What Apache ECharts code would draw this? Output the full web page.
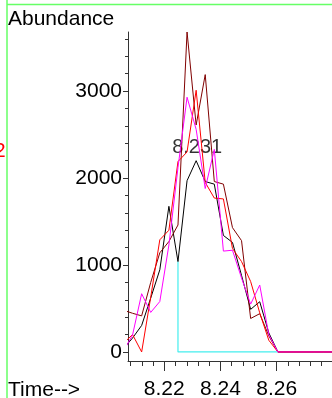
<!DOCTYPE html>
<html><head><meta charset="utf-8">
<script src="https://cdn.jsdelivr.net/npm/echarts@6/dist/echarts.min.js"></script>
<style>html,body{margin:0;padding:0;background:#fff;overflow:hidden}#c{width:332px;height:398px}</style>
</head><body><div id="c"></div>
<script>
// scan times (min)
const times = [8.20547, 8.20870, 8.21194, 8.21517, 8.21840, 8.22164, 8.22487, 8.22810,
  8.23134, 8.23457, 8.23780, 8.24104, 8.24427, 8.24750, 8.25074, 8.25397, 8.25720,
  8.26044, 8.26367, 8.26690, 8.27014, 8.27337, 8.27660, 8.27984];
const blackIon   = [40, 160, 305, 620, 945, 1675, 1040, 1970, 2200, 1960, 1930, 1340, 1260, 880, 490, 578, 220, 0, 0, 0, 0, 0, 0, 0];
const maroonIon  = [480, 445, 415, 800, 1140, 1270, 1460, 3680, 2610, 3190, 1960, 1930, 1430, 1280, 385, 440, 185, 0, 0, 0, 0, 0, 0, 0];
const redIon     = [100, 200, 0, 630, 1290, 1400, 2190, 2300, 3010, 1950, 1770, 1760, 1190, 1040, 810, 450, 135, 0, 0, 0, 0, 0, 0, 0];
const magentaIon = [10, 195, 670, 455, 580, 1230, 2120, 2930, 2560, 1880, 2330, 1160, 1170, 850, 550, 770, 200, 0, 0, 0, 0, 0, 0, 0];
const peakIndex = 8;
const peakLabel = '8.231';
const baseStart = 6, baseEnd = 17;
const xMajorTicks = [8.22, 8.24, 8.26];
const xMinorTicks = [8.208, 8.212, 8.216, 8.220, 8.224, 8.228, 8.232, 8.236, 8.240, 8.244, 8.248, 8.252, 8.256, 8.260, 8.264, 8.268, 8.272, 8.276];
const yMajorTicks = [0, 1000, 2000, 3000];
const yMinorTicks = [0, 200, 400, 600, 800, 1000, 1200, 1400, 1600, 1800, 2000, 2200, 2400, 2600, 2800, 3000, 3200, 3400, 3600];
const yTitle = 'Abundance';
const xTitle = 'Time-->';

const FONT = '"Liberation Sans", Arial, sans-serif';
const XMIN = 8.20708, XMAX = 8.2797, YMIN = -104, YMAX = 3680;
const pairs = arr => times.map((t, i) => [t, arr[i]]);
const axisCol = '#333';

const chart = echarts.init(document.getElementById('c'), null, {renderer: 'canvas'});
const lineS = (data, color) => ({
  type: 'line', data: pairs(data), showSymbol: false, symbol: 'none',
  lineStyle: {color, width: 1}, itemStyle: {color}, animation: false, silent: true
});
chart.setOption({
  animation: false,
  grid: {left: 128, right: 0, top: 32, bottom: 37, containLabel: false, outerBoundsMode: 'none'},
  xAxis: [
    {type: 'value', min: XMIN, max: XMAX, position: 'bottom',
     axisLine: {show: true, onZero: false, lineStyle: {color: axisCol, width: 1}},
     axisTick: {show: true, customValues: xMinorTicks, length: 5, lineStyle: {color: axisCol}},
     axisLabel: {show: false}, splitLine: {show: false}},
    {type: 'value', min: XMIN, max: XMAX, position: 'bottom',
     axisLine: {show: false, onZero: false},
     axisTick: {show: true, customValues: xMajorTicks, length: 10, lineStyle: {color: axisCol}},
     axisLabel: {show: true, customValues: xMajorTicks, formatter: v => v.toFixed(2), fontSize: 21, fontFamily: FONT, color: '#000', margin: 18},
     splitLine: {show: false}}
  ],
  yAxis: [
    {type: 'value', min: YMIN, max: YMAX, position: 'left',
     axisLine: {show: true, onZero: false, lineStyle: {color: axisCol, width: 1}},
     axisTick: {show: true, customValues: yMinorTicks, length: 3, lineStyle: {color: axisCol}},
     axisLabel: {show: false}, splitLine: {show: false}},
    {type: 'value', min: YMIN, max: YMAX, position: 'left',
     axisLine: {show: false, onZero: false},
     axisTick: {show: true, customValues: yMajorTicks, length: 5, lineStyle: {color: axisCol}},
     axisLabel: {show: true, customValues: yMajorTicks, formatter: v => String(v), fontSize: 21, fontFamily: FONT, color: '#000', margin: 6},
     splitLine: {show: false}}
  ],
  series: [
    {type: 'line', data: [[times[baseStart], blackIon[baseStart]], [times[baseStart], 0], [times[baseEnd], 0]],
     showSymbol: false, symbol: 'none', lineStyle: {color: '#44eeee', width: 1.2}, animation: false, silent: true},
    lineS(blackIon, '#000000'),
    lineS(maroonIon, '#800000'),
    lineS(redIon, '#ff0000'),
    lineS(magentaIon, '#ff00ff'),
    {type: 'scatter', data: [[times[peakIndex], blackIon[peakIndex]]], symbolSize: 1,
     itemStyle: {color: 'rgba(0,0,0,0)'}, silent: true, animation: false,
     label: {show: true, position: 'top', distance: 3, offset: [1, 0], formatter: peakLabel,
             fontSize: 20, fontFamily: FONT, color: '#000'}}
  ],
  graphic: [
    {type: 'line', shape: {x1: 7, y1: 0, x2: 7, y2: 398}, style: {stroke: '#66ff66', lineWidth: 1.5}, silent: true},
    {type: 'line', shape: {x1: 7, y1: 4.5, x2: 332, y2: 4.5}, style: {stroke: '#66ff66', lineWidth: 1.5}, silent: true},
    {type: 'text', x: -6, y: 151, style: {text: '2', fill: '#ff0000', font: '21px ' + FONT, verticalAlign: 'middle'}, silent: true},
    {type: 'text', x: 8, y: 19, style: {text: yTitle, fill: '#000', font: '21px ' + FONT, verticalAlign: 'middle'}, silent: true},
    {type: 'text', x: 8, y: 390, style: {text: xTitle, fill: '#000', font: '21px ' + FONT, verticalAlign: 'middle'}, silent: true}
  ]
});
</script></body></html>
